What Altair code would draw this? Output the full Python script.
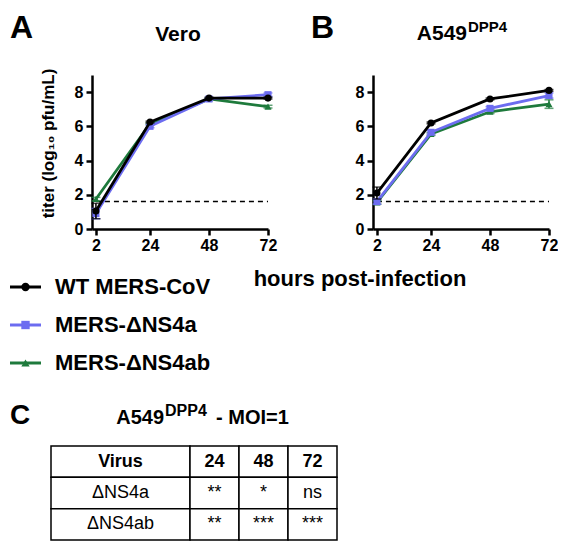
import altair as alt
import pandas as pd

# ---------------- data ----------------
HOURS = [2, 24, 48, 72]
VIRUSES = ["WT MERS-CoV", "MERS-ΔNS4a", "MERS-ΔNS4ab"]
COLORS = ["#000000", "#6C6CF0", "#1E7A3C"]
SHAPES = ["circle", "square", "triangle-up"]
LOD = 1.6
Y_TICKS = [0, 2, 4, 6, 8]

VERO_WT = [1.05, 6.25, 7.65, 7.65]
VERO_NS4A = [0.9, 6.0, 7.6, 7.85]
VERO_NS4AB = [1.75, 6.15, 7.6, 7.15]
VERO_WT_SD = [0.45, 0.05, 0.05, 0.05]
VERO_NS4A_SD = [0.3, 0.08, 0.05, 0.1]
VERO_NS4AB_SD = [0.1, 0.05, 0.05, 0.08]

A549_WT = [2.1, 6.2, 7.6, 8.1]
A549_NS4A = [1.6, 5.65, 7.05, 7.8]
A549_NS4AB = [1.55, 5.55, 6.85, 7.3]
A549_WT_SD = [0.35, 0.05, 0.05, 0.05]
A549_NS4A_SD = [0.15, 0.1, 0.1, 0.15]
A549_NS4AB_SD = [0.1, 0.08, 0.1, 0.25]

TABLE_HEADER = ["Virus", "24", "48", "72"]
TABLE_ROW_NAMES = ["ΔNS4a", "ΔNS4ab"]
TABLE_NS4A = ["**", "*", "ns"]
TABLE_NS4AB = ["**", "***", "***"]

# ---------------- layout / style ----------------
FONT = "Liberation Sans"
PW, PH = 176, 154
GAP = 105
COL_W = [139, 49, 49, 49]
TABLE_LEFT = -41
TABLE_Y = [371, 465]
LEG_RANGE = [193, 307]  # point scale (padding 0.5) -> centers 212, 250, 288


def txt(s, x, y, size, weight="bold", align="left", baseline="alphabetic"):
    return alt.Chart(pd.DataFrame({"t": [s]})).mark_text(
        font=FONT, fontSize=size, fontWeight=weight, align=align,
        baseline=baseline, color="black"
    ).encode(text="t:N", x=alt.value(x), y=alt.value(y))


def panel(means, sds, ytitle):
    xs = alt.Scale(domain=[0.4, 72], nice=False, zero=False)
    ys = alt.Scale(domain=[0, 9], nice=False)
    xax = alt.Axis(values=HOURS, title=None, format="d", labelFlush=False)
    if ytitle:
        yax = alt.Axis(values=Y_TICKS, title="titer (log₁₀ pfu/mL)", titleX=-44,
                       titleY=68, titleAngle=270, titleAlign="center",
                       titleBaseline="middle", labelFlush=False)
    else:
        yax = alt.Axis(values=Y_TICKS, title=None, labelFlush=False)

    def X(f):
        return alt.X(f, scale=xs, axis=xax)

    def Y(f):
        return alt.Y(f, scale=ys, axis=yax)

    lod_df = pd.DataFrame({"h0": [HOURS[0]], "h1": [HOURS[-1]], "lod": [LOD]})
    layers = [
        alt.Chart(lod_df).mark_rule(color="black", strokeDash=[5, 4], strokeWidth=1.5)
        .encode(x=X("h0:Q"), x2="h1:Q", y=Y("lod:Q"))
    ]
    for i in [2, 1, 0]:
        df = pd.DataFrame({
            "hour": HOURS,
            "titer": means[i],
            "lo": [m - s for m, s in zip(means[i], sds[i])],
            "hi": [m + s for m, s in zip(means[i], sds[i])],
        })
        c = COLORS[i]
        b = alt.Chart(df)
        layers.append(b.mark_rule(color=c, strokeWidth=1.5).encode(x=X("hour:Q"), y=Y("lo:Q"), y2="hi:Q"))
        layers.append(b.mark_tick(color=c, orient="horizontal", size=9, thickness=1.5)
                      .encode(x=X("hour:Q"), y=Y("lo:Q")))
        layers.append(b.mark_tick(color=c, orient="horizontal", size=9, thickness=1.5)
                      .encode(x=X("hour:Q"), y=Y("hi:Q")))
        layers.append(b.mark_line(color=c, strokeWidth=2.8).encode(x=X("hour:Q"), y=Y("titer:Q")))
        layers.append(b.mark_point(color=c, fill=c, filled=True, opacity=1, shape=SHAPES[i], size=50)
                      .encode(x=X("hour:Q"), y=Y("titer:Q")))
    return alt.layer(*layers)


coreA = panel([VERO_WT, VERO_NS4A, VERO_NS4AB], [VERO_WT_SD, VERO_NS4A_SD, VERO_NS4AB_SD], True)
coreB = panel([A549_WT, A549_NS4A, A549_NS4AB], [A549_WT_SD, A549_NS4A_SD, A549_NS4AB_SD], False)

# ---------------- legend ----------------
leg_df = pd.DataFrame({"virus": VIRUSES})
ly = alt.Y("virus:N", scale=alt.Scale(type="point", domain=VIRUSES, range=LEG_RANGE, padding=0.5), axis=None)
lcol = alt.Color("virus:N", scale=alt.Scale(domain=VIRUSES, range=COLORS), legend=None)
lshape = alt.Shape("virus:N", scale=alt.Scale(domain=VIRUSES, range=SHAPES), legend=None)
lb = alt.Chart(leg_df)
legend = alt.layer(
    lb.mark_rule(strokeWidth=3).encode(x=alt.value(-82), x2=alt.value(-51), y=ly, color=lcol),
    lb.mark_point(filled=True, opacity=1, size=70).encode(x=alt.value(-66.5), y=ly, color=lcol, shape=lshape),
    lb.mark_text(font=FONT, fontSize=22, fontWeight="bold", align="left", color="black")
    .encode(x=alt.value(-37), y=ly, text="virus:N"),
)

# ---------------- table ----------------
rows = [("h", TABLE_HEADER, "bold"),
        ("r1", [TABLE_ROW_NAMES[0]] + TABLE_NS4A, "normal"),
        ("r2", [TABLE_ROW_NAMES[1]] + TABLE_NS4AB, "normal")]
recs = []
for key, cells, w in rows:
    x0 = 0
    for j, cell in enumerate(cells):
        recs.append({"row": key, "x0": x0, "x1": x0 + COL_W[j],
                     "xc": x0 + COL_W[j] / 2, "text": cell, "w": w})
        x0 += COL_W[j]
tdf = pd.DataFrame(recs)
tot = sum(COL_W)
tx = alt.Scale(domain=[0, tot], range=[TABLE_LEFT, TABLE_LEFT + tot])
ty = alt.Y("row:N", scale=alt.Scale(domain=["h", "r1", "r2"], range=TABLE_Y,
                                    paddingInner=0, paddingOuter=0), axis=None)
tb = alt.Chart(tdf)
table = alt.layer(
    tb.mark_rect(fill="white", stroke="black", strokeWidth=1.5).encode(
        x=alt.X("x0:Q", scale=tx, axis=None), x2="x1:Q", y=ty),
    tb.transform_filter("datum.w == 'bold'").mark_text(font=FONT, fontSize=18, fontWeight="bold", color="black")
    .encode(x=alt.X("xc:Q", scale=tx, axis=None), y=ty, text="text:N"),
    tb.transform_filter("datum.w != 'bold'").mark_text(font=FONT, fontSize=18, color="black")
    .encode(x=alt.X("xc:Q", scale=tx, axis=None), y=ty, text="text:N"),
)

annA = [
    txt("A", -82, -37, 32),
    txt("Vero", 86, -34, 21, align="center"),
    txt("hours post-infection", 268, 204, 22, align="center", baseline="middle"),
    txt("C", -82, 349, 28),
    txt("A549", 72, 349, 20, align="right"),
    txt("DPP4", 73, 341, 16),
    txt("- MOI=1", 124, 349, 20),
]
annB = [
    txt("B", -62, -37, 32),
    txt("A549", 94, -35, 21, align="right"),
    txt("DPP4", 95, -43, 15),
]

pA = alt.layer(coreA, legend, table, *annA).resolve_scale(
    x="independent", y="independent", color="independent", shape="independent"
).properties(width=PW, height=PH)
pB = alt.layer(coreB, *annB).properties(width=PW, height=PH)

chart = alt.hconcat(pA, pB, spacing=GAP, bounds="flush").properties(
    padding={"top": 4, "left": 0, "right": 0, "bottom": 0}
).configure(font=FONT).configure_view(stroke=None).configure_axis(
    domainColor="black", domainWidth=2.5, tickColor="black", tickWidth=2.5, tickSize=6,
    labelColor="black", labelFont=FONT, labelFontSize=16, labelFontWeight="bold",
    grid=False, titleFont=FONT, titleFontSize=17, titleFontWeight="bold", titleColor="black",
).configure_axisX(labelPadding=2).configure_axisY(labelPadding=3)

chart.save("out.html", embed_options={"renderer": "svg", "actions": False})
